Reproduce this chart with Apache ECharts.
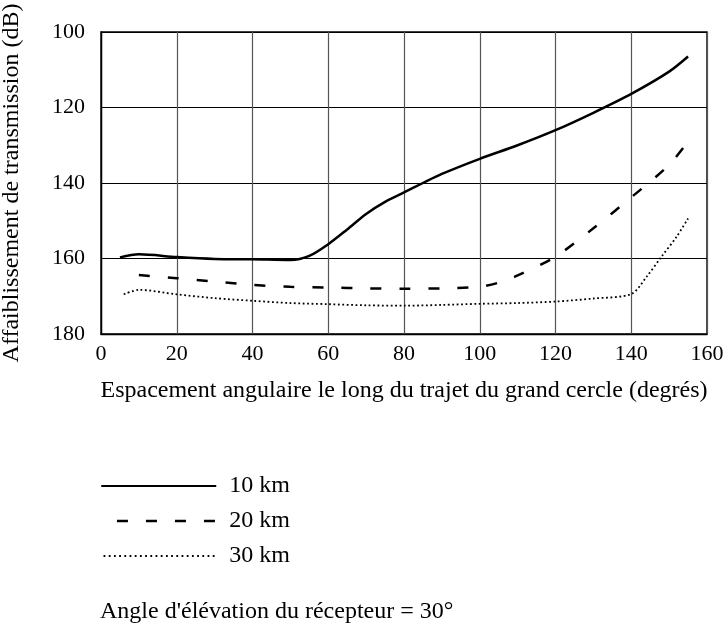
<!DOCTYPE html>
<html>
<head>
<meta charset="utf-8">
<script src="https://cdn.jsdelivr.net/npm/echarts@6/dist/echarts.min.js"></script>
<style>html,body{margin:0;padding:0;background:#fff;}#c{width:726px;height:628px;}</style>
</head>
<body>
<div id="c"></div>
<script>
var xTicks = [0, 20, 40, 60, 80, 100, 120, 140, 160];
var yTicks = [100, 120, 140, 160, 180];
var seriesNames = ['10 km', '20 km', '30 km'];
var km10 = [[5,159.7],[10,158.9],[20,159.6],[30,160.1],[40,160.2],[50,160.4],[55,159.3],[60,156.2],[65,152.3],[70,148.2],[75,145],[80,142.5],[85,140],[90,137.6],[100,133.6],[110,130],[120,126],[130,121.4],[140,116.4],[150,110.5],[155,106.5]];
var km20 = [[10,164.4],[20,165.2],[30,166.1],[40,167],[50,167.5],[60,167.7],[70,167.9],[80,168],[90,167.9],[100,167.5],[105,166.4],[110,164.5],[120,159.5],[130,152],[140,143.8],[150,135.2],[155,129]];
var km30 = [[6,169.5],[10,168.3],[20,169.5],[30,170.5],[40,171.2],[50,171.8],[60,172.1],[70,172.4],[80,172.5],[90,172.3],[100,172],[110,171.8],[120,171.4],[130,170.6],[140,169.4],[144,164.9],[148,159.5],[152,154.2],[155,149.4]];
var note = "Angle d'élévation du récepteur = 30°";

var font = '"Liberation Serif", "Times New Roman", serif';
var chart = echarts.init(document.getElementById('c'), null, {renderer: 'canvas'});
chart.setOption({
  animation: false,
  backgroundColor: '#fff',
  grid: {left: 101, top: 32, width: 606, height: 302, show: true, borderColor: '#000', borderWidth: 1.4, backgroundColor: 'transparent', containLabel: false, outerBoundsMode: 'none'},
  title: {text: note, left: 95, top: 593, textStyle: {fontFamily: font, fontSize: 24, fontWeight: 'normal', color: '#000', lineHeight: 28}},
  legend: {
    orient: 'vertical', left: 95, top: 469, itemWidth: 115, itemHeight: 14, itemGap: 11,
    data: [
      {name: seriesNames[0]},
      {name: seriesNames[1], lineStyle: {type: [11, 18], dashOffset: 13.3, width: 2.5}},
      {name: seriesNames[2], lineStyle: {type: [1.8, 3.4], width: 1.8}}
    ],
    itemStyle: {opacity: 0},
    textStyle: {fontFamily: font, fontSize: 24, color: '#000', lineHeight: 24, padding: [0, 0, 0, 8]}
  },
  xAxis: {
    type: 'value', min: xTicks[0], max: xTicks[xTicks.length - 1], interval: 20,
    name: 'Espacement angulaire le long du trajet du grand cercle (degrés)',
    nameLocation: 'middle', nameGap: 45,
    nameTextStyle: {fontFamily: font, fontSize: 24, color: '#000'},
    axisLine: {show: true, lineStyle: {color: '#000', width: 1.4}},
    axisTick: {show: false},
    axisLabel: {fontFamily: font, fontSize: 22, color: '#000', margin: 9},
    splitLine: {show: true, lineStyle: {color: '#555', width: 1.2}}
  },
  yAxis: {
    type: 'value', min: yTicks[0], max: yTicks[yTicks.length - 1], interval: 20, inverse: true,
    name: 'Affaiblissement de transmission (dB)',
    nameLocation: 'middle', nameGap: 77, nameRotate: 90,
    nameTextStyle: {fontFamily: font, fontSize: 24, color: '#000'},
    axisLine: {show: true, lineStyle: {color: '#000', width: 1.4}},
    axisTick: {show: false},
    axisLabel: {fontFamily: font, fontSize: 22, color: '#000', margin: 16},
    splitLine: {show: true, lineStyle: {color: '#000', width: 1.2}}
  },
  series: [
    {name: seriesNames[0], type: 'line', data: km10, symbol: 'none', smooth: 0.3, lineStyle: {color: '#000', width: 2.5, type: 'solid'}, itemStyle: {color: '#000'}},
    {name: seriesNames[1], type: 'line', data: km20, symbol: 'none', smooth: 0.3, lineStyle: {color: '#000', width: 2.5, type: [11, 18]}, itemStyle: {color: '#000'}},
    {name: seriesNames[2], type: 'line', data: km30, symbol: 'none', smooth: 0.3, lineStyle: {color: '#000', width: 1.8, type: [1.8, 2.6]}, itemStyle: {color: '#000'}}
  ]
});
</script>
</body>
</html>
